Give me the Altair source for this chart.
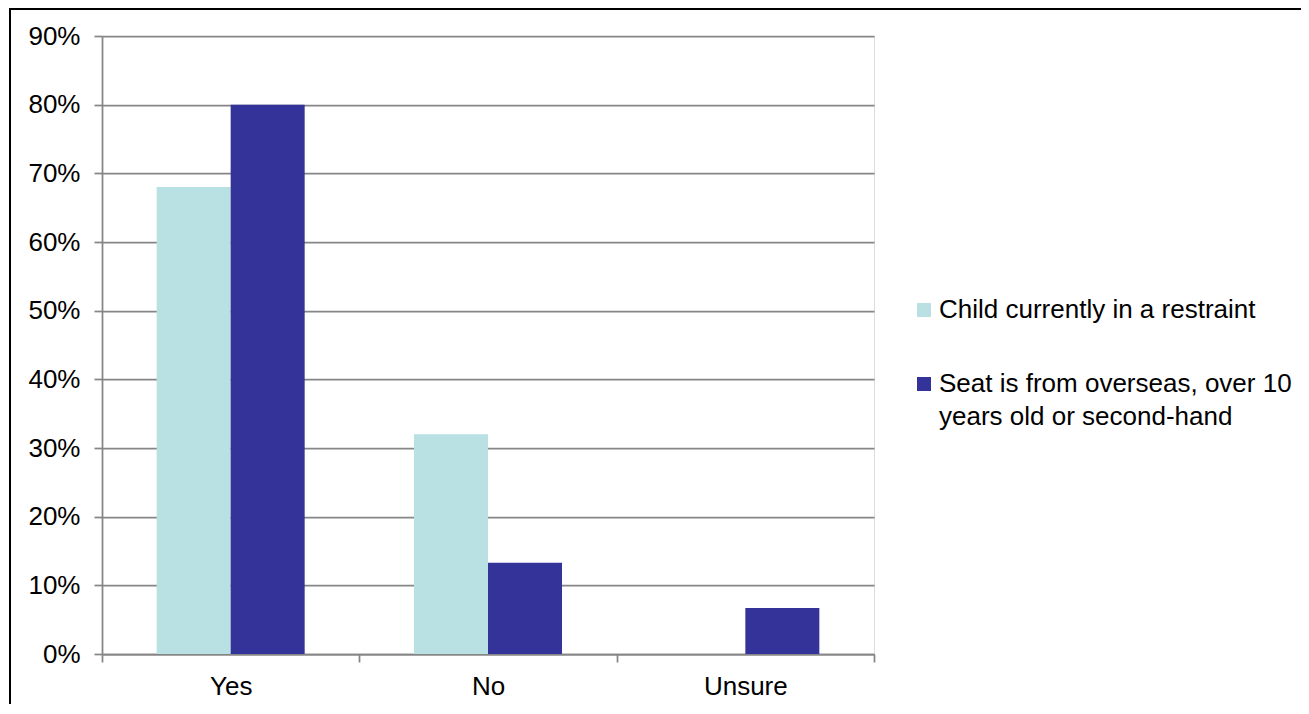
import altair as alt
import pandas as pd

categories = ["Yes", "No", "Unsure"]
series = ["Child currently in a restraint",
          "Seat is from overseas, over 10 years old or second-hand"]
child_vals = [0.68, 0.32, 0.0]
seat_vals = [0.80, 0.133, 0.067]
y_ticks = [0, 0.1, 0.2, 0.3, 0.4, 0.5, 0.6, 0.7, 0.8, 0.9]
colors = ["#B9E0E2", "#333399"]

rows = []
for c, a, b in zip(categories, child_vals, seat_vals):
    rows.append({"category": c, "series": series[0], "value": a})
    rows.append({"category": c, "series": series[1], "value": b})
df = pd.DataFrame(rows)

FONT = "Liberation Sans"
FS = 26
GRID = "#868686"

bars = alt.Chart(df).mark_bar().encode(
    x=alt.X("category:N", sort=categories, title=None,
            scale=alt.Scale(paddingInner=0, paddingOuter=0),
            axis=alt.Axis(labelAngle=0, tickBand="extent", grid=False,
                          domainColor=GRID, domainWidth=1.75,
                          tickColor=GRID, tickWidth=1.75, tickSize=8,
                          labelPadding=11, labelFontSize=FS, labelFont=FONT,
                          labelColor="black")),
    xOffset=alt.XOffset("series:N", sort=series,
                        scale=alt.Scale(paddingInner=0, paddingOuter=0.7385)),
    y=alt.Y("value:Q", title=None,
            scale=alt.Scale(domain=[0, 0.9], nice=False),
            axis=alt.Axis(values=y_ticks, format=".0%", grid=True,
                          gridColor=GRID, gridWidth=1.75,
                          domainColor=GRID, domainWidth=1.75,
                          tickColor=GRID, tickWidth=1.75, tickSize=8,
                          labelPadding=14, labelFontSize=FS, labelFont=FONT,
                          labelColor="black")),
    color=alt.Color("series:N", sort=series,
                    scale=alt.Scale(domain=series, range=colors), legend=None),
)

dummy = pd.DataFrame({"k": [0]})

border_top = alt.Chart(dummy).mark_rule(color="black", strokeWidth=2).encode(
    x=alt.value(-93), x2=alt.value(1300), y=alt.value(-27))
border_left = alt.Chart(dummy).mark_rule(color="black", strokeWidth=2).encode(
    x=alt.value(-92), y=alt.value(-28), y2=alt.value(800))

sq1 = alt.Chart(dummy).mark_square(size=196, color=colors[0], opacity=1).encode(
    x=alt.value(822), y=alt.value(274))
sq2 = alt.Chart(dummy).mark_square(size=196, color=colors[1], opacity=1).encode(
    x=alt.value(822), y=alt.value(348))

def txt(s, y):
    return alt.Chart(dummy).mark_text(align="left", baseline="middle",
                                      font=FONT, fontSize=FS, color="black").encode(
        x=alt.value(837), y=alt.value(y), text=alt.value(s))

t1 = txt(series[0], 274)
t2 = txt("Seat is from overseas, over 10", 348)
t3 = txt("years old or second-hand", 381)

chart = alt.layer(bars, border_top, border_left, sq1, sq2, t1, t2, t3).properties(
    width=772, height=618,
    autosize=alt.AutoSizeParams(type="none"),
    padding={"left": 94, "top": 28, "right": 427, "bottom": 50},
).configure_view(stroke=None).configure(background="white")

chart.save("out.html", embed_options={"renderer": "svg", "actions": False})
